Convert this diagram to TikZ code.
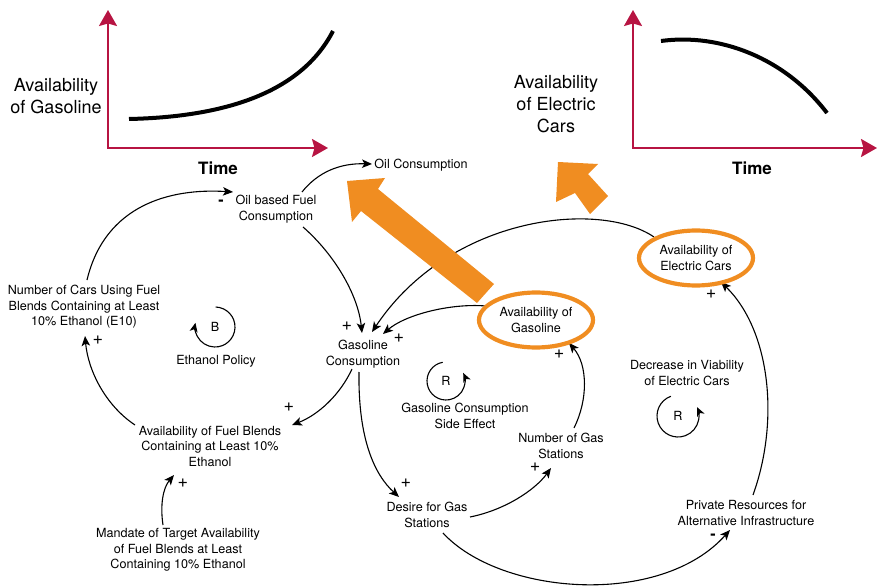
\documentclass[tikz,border=0pt]{standalone}
\usepackage{fontspec}
\setmainfont{TeX Gyre Heros}
\usetikzlibrary{arrows.meta,shapes.geometric}
\definecolor{axisred}{RGB}{183,20,66}
\definecolor{accent}{RGB}{240,141,33}
\pgfdeclarelayer{front}
\pgfsetlayers{main,front}

\begin{document}
\begin{tikzpicture}[x=1pt,y=-1pt,
  lbl/.style={font=\fontsize{12.6}{15.5}\selectfont, align=center, inner sep=0pt},
  big/.style={font=\fontsize{18}{22}\selectfont, align=center, inner sep=0pt},
  timelbl/.style={font=\bfseries\fontsize{17}{20}\selectfont, inner sep=0pt},
  plus/.style={font=\fontsize{18}{18}\selectfont, inner sep=0pt},
  minus/.style={font=\bfseries\fontsize{16}{16}\selectfont, inner sep=0pt},
  axis/.style={draw=axisred, line width=2pt,
    {Stealth[length=16pt,width=18pt,inset=2.5pt]}-{Stealth[length=16pt,width=18pt,inset=2.5pt]}},
  trend/.style={line width=4pt},
  link/.style={line width=1.1pt, -{Stealth[length=10pt,width=8.5pt,inset=2.5pt]}},
  loopc/.style={line width=1.1pt, -{Stealth[length=9pt,width=8pt,inset=2.5pt]}},
  key/.style={ellipse, draw=accent, fill=white, line width=4.2pt, minimum width=114pt,
    minimum height=55pt, inner sep=0pt, align=center,
    font=\fontsize{12.6}{15.5}\selectfont},
]
\useasboundingbox (0,0) rectangle (878,588);

% ---- trend sketches ----
\node[big] (gasaxis) at (56,96) {Availability\\of Gasoline};
\node[timelbl] (gastime) at (218,168) {Time};
\draw[axis] (108,10) -- (108,148) -- (328,148);
\draw[trend] (129,119) .. controls (220,117) and (300,95) .. (333,31);

\node[big] (evaxis) at (556,104) {Availability\\of Electric\\Cars};
\node[timelbl] (evtime) at (752,168) {Time};
\draw[axis] (633,10) -- (633,148) -- (877,148);
\draw[trend] (661,41) .. controls (720,33) and (785,58) .. (827,113);

% ---- key variables, kept above the shift arrows ----
\begin{pgfonlayer}{front}
\node[key] (avg) at (536,320) {Availability of\\Gasoline};
\node[key] (aec) at (696,258) {Availability of\\Electric Cars};
\end{pgfonlayer}

% ---- variables ----
\node[lbl] (oilc) at (421,165) {Oil Consumption};
\node[lbl] (oilf) at (276,209) {Oil based Fuel\\Consumption};
\node[lbl] (ncars) at (84,307) {Number of Cars Using Fuel\\Blends Containing at Least\\10\% Ethanol (E10)};
\node[lbl] (gc) at (363,354) {Gasoline\\Consumption};
\node[lbl] (afb) at (210,446) {Availability of Fuel Blends\\Containing at Least 10\%\\Ethanol};
\node[lbl] (mand) at (178,550) {Mandate of Target Availability\\of Fuel Blends at Least\\Containing 10\% Ethanol};
\node[lbl] (ngs) at (561,446) {Number of Gas\\Stations};
\node[lbl] (dgs) at (427,515) {Desire for Gas\\Stations};
\node[lbl] (prv) at (746,513) {Private Resources for\\Alternative Infrastructure};

% ---- loop names ----
\node[lbl] (bname) at (216,361) {Ethanol Policy};
\node[lbl] (r1name) at (465,416) {Gasoline Consumption\\Side Effect};
\node[lbl] (r2name) at (687,373) {Decrease in Viability\\of Electric Cars};
\node[lbl] (bmark) at (215,327) {B};
\node[lbl] (r1mark) at (446,381) {R};
\node[lbl] (r2mark) at (678,416) {R};
\draw[loopc] ([shift={(-88:20)}]bmark.center) arc[start angle=-88, end angle=192, radius=20];
\draw[loopc] ([shift={(260:19)}]r1mark.center) arc[start angle=260, end angle=-25, radius=19];
\draw[loopc] ([shift={(250:21)}]r2mark.center) arc[start angle=250, end angle=-25, radius=21];

% ---- causal links ----
\draw[link] ([shift={(3,-27)}]ncars.center) .. controls +(18,-75) and +(-63,-4) .. ([shift={(-43,-17)}]oilf.center);
\draw[link] ([shift={(26,-17)}]oilf.center) .. controls +(16,-20) and +(-32,-1) .. ([shift={(-49,-1)}]oilc.center);
\draw[link] ([shift={(27,18)}]oilf.center) .. controls +(32,28) and +(-4,-38) .. ([shift={(-1,-21)}]gc.center);
\draw[link] ([shift={(-42,-21)}]aec.center) .. controls +(-54,-37) and +(78,-117) .. ([shift={(9,-22)}]gc.center);
\draw[link] ([shift={(-50,-14)}]avg.center) .. controls +(-36,-3) and +(22,-19) .. ([shift={(20,-20)}]gc.center);
\draw[link] ([shift={(-11,15)}]gc.center) .. controls +(-12,26) and +(26,-10) .. ([shift={(82,-21)}]afb.center);
\draw[link] ([shift={(-75,-21)}]afb.center) .. controls +(-30,-20) and +(3,34) .. ([shift={(1,29)}]ncars.center);
\draw[link] ([shift={(-15,-25)}]mand.center) .. controls +(-3,-20) and +(-11,13) .. ([shift={(-36,29)}]afb.center);
\draw[link] ([shift={(-4,18)}]gc.center) .. controls +(-1,68) and +(-24,-22) .. ([shift={(-28,-18)}]dgs.center);
\draw[link] ([shift={(43,2)}]dgs.center) .. controls +(35,-7) and +(-16,22) .. ([shift={(-10,22)}]ngs.center);
\draw[link] ([shift={(13,-18)}]ngs.center) .. controls +(14,-28) and +(19,22) .. ([shift={(33,23)}]avg.center);
\draw[link] ([shift={(16,18)}]dgs.center) .. controls +(57,62) and +(-70,78) .. ([shift={(-16,17)}]prv.center);
\draw[link] ([shift={(7,-18)}]prv.center) .. controls +(27,-75) and +(49,48) .. ([shift={(25,24)}]aec.center);

% ---- polarity marks ----
\node[minus] (p1) at (221,203) {-};
\node[plus] (p2) at (98,340) {+};
\node[plus] (p3) at (347,326) {+};
\node[plus] (p4) at (399,338) {+};
\node[plus] (p5) at (289,407) {+};
\node[plus] (p6) at (183,483) {+};
\node[plus] (p7) at (406,483) {+};
\node[plus] (p8) at (535,467) {+};
\node[plus] (p9) at (559,354) {+};
\node[plus] (p10) at (711,294) {+};
\node[minus] (p11) at (713,537) {-};

% ---- shift arrows ----
\fill[accent] (347,181) -- (385,178) -- (378,189) -- (494,284) -- (477,303) -- (361,211) -- (352,222) -- cycle;
\fill[accent] (558,162) -- (598,164) -- (588,174) -- (608,196) -- (590,214) -- (575,193) -- (556,202) -- cycle;
\end{tikzpicture}
\end{document}
